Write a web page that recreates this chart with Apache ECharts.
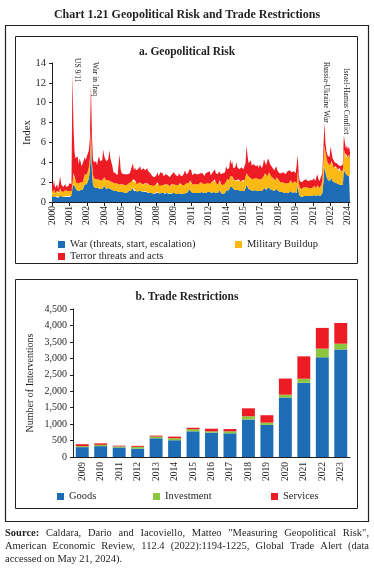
<!DOCTYPE html>
<html><head><meta charset="utf-8">
<script src="https://cdn.jsdelivr.net/npm/echarts@6.0.0/dist/echarts.min.js"></script>
<style>html,body{margin:0;padding:0;background:#fff}#c{width:374px;height:570px}</style>
</head><body><div id="c"></div>
<script>
// ---------- Panel a: monthly Geopolitical Risk components (Jan 2000 - Apr 2024) ----------
const startYear = 2000, endYear = 2024, endMonth = 4;
const labelEvery = 17;

const war = [
0.6,0.5,0.7,0.5,0.5,0.6,0.4,0.5,0.8,0.6,0.5,0.5,
0.5,0.6,0.5,0.6,0.5,0.6,0.5,0.6,1.8,1.9,1.6,1.4,
1.2,1.3,1.1,1.3,1.2,1.1,1.2,1.5,1.8,1.7,1.8,2.1,
2.4,3.2,5.8,3.0,1.8,1.5,1.4,1.4,1.3,1.4,1.5,1.3,
1.4,1.3,1.5,1.6,1.5,1.3,1.3,1.4,1.4,1.3,1.3,1.2,
1.1,1.1,1.0,1.1,1.0,1.0,1.2,1.0,1.0,1.0,0.9,0.9,
1.0,0.9,1.0,1.1,1.0,1.1,1.5,1.4,1.1,1.2,1.1,1.0,
1.1,1.1,1.2,1.1,1.0,1.0,1.0,1.1,1.0,1.0,0.9,0.9,
0.9,0.9,0.9,0.8,0.8,0.9,0.9,1.0,0.9,0.8,0.9,0.9,
1.0,0.9,0.8,0.9,0.9,0.9,0.8,0.8,0.8,0.9,0.9,0.9,
0.9,0.8,0.8,0.8,0.9,0.9,0.8,0.8,0.8,0.8,1.0,0.9,
0.9,1.0,1.3,1.2,1.0,0.9,0.9,0.9,0.9,0.9,0.9,0.9,
0.9,1.0,1.0,0.9,0.9,0.9,0.9,1.0,1.0,0.9,1.0,0.9,
0.9,1.0,1.0,1.1,0.9,0.9,0.9,1.1,1.2,0.9,0.8,0.8,
0.9,0.9,1.3,1.2,1.1,1.2,1.5,1.4,1.5,1.3,1.2,1.1,
1.2,1.1,1.2,1.1,1.1,1.1,1.1,1.0,1.1,1.4,1.7,1.5,
1.3,1.3,1.2,1.2,1.1,1.1,1.2,1.1,1.1,1.2,1.1,1.1,
1.1,1.1,1.2,1.5,1.4,1.2,1.2,1.5,1.4,1.3,1.2,1.2,
1.2,1.1,1.1,1.3,1.2,1.1,1.0,1.0,1.0,1.0,1.0,0.9,
0.9,0.9,0.9,0.9,1.0,1.1,1.0,0.9,1.0,1.0,0.9,0.9,
1.8,0.9,0.6,0.5,0.5,0.6,0.6,0.6,0.6,0.6,0.6,0.6,
0.6,0.6,0.6,0.6,0.7,0.6,0.6,0.8,0.7,0.6,0.6,0.7,
0.9,2.0,3.6,3.0,2.6,2.3,2.2,2.1,2.3,2.4,2.1,2.0,
2.0,2.0,1.9,1.8,1.8,1.9,1.7,1.7,1.7,3.3,3.0,2.8,
2.8,2.6,2.9,2.7
];
const buildup = [
0.6,0.5,0.6,0.4,0.5,0.5,0.4,0.5,0.6,0.5,0.5,0.5,
0.5,0.6,0.5,0.5,0.5,0.5,0.5,0.5,0.9,1.0,0.8,0.8,
0.7,0.8,0.8,0.8,0.8,0.8,0.8,0.9,1.0,1.0,1.0,1.0,
1.1,1.2,1.5,1.0,0.9,0.9,0.9,0.9,0.9,0.9,0.9,0.9,
0.9,0.9,0.9,0.9,0.9,0.9,0.8,0.8,0.9,0.8,0.8,0.8,
0.8,0.8,0.8,0.8,0.8,0.8,0.8,0.8,0.8,0.8,0.8,0.8,
0.8,0.8,0.8,0.8,0.8,0.9,0.9,0.9,0.9,1.0,0.9,0.8,
0.8,0.9,0.9,0.8,0.8,0.8,0.8,0.8,0.9,0.9,0.8,0.8,
0.8,0.8,0.8,0.8,0.8,0.8,0.9,1.0,0.9,0.8,0.8,0.8,
0.9,0.8,0.8,0.9,1.0,0.9,0.9,0.8,0.8,0.9,0.9,0.9,
0.9,0.9,0.9,0.9,1.0,1.0,0.9,0.9,0.9,0.9,1.1,1.0,
0.9,0.9,1.0,1.0,0.9,0.9,0.9,0.9,0.9,0.9,0.9,0.9,
1.0,1.0,1.0,1.0,1.0,0.9,0.9,0.9,1.0,1.0,1.0,1.0,
1.0,1.1,1.2,1.2,1.0,0.9,0.9,1.0,1.0,0.9,0.9,0.9,
0.9,1.0,1.2,1.1,1.0,1.0,1.1,1.1,1.1,1.0,1.0,1.0,
1.0,1.1,1.1,1.0,1.0,1.1,1.1,1.0,1.1,1.2,1.2,1.3,
1.3,1.3,1.2,1.2,1.2,1.2,1.2,1.2,1.3,1.3,1.2,1.2,
1.2,1.3,1.3,1.6,1.5,1.4,1.4,1.6,1.6,1.5,1.4,1.3,
1.2,1.1,1.1,1.2,1.2,1.2,1.1,1.0,1.0,1.0,1.0,1.0,
1.0,1.0,1.0,1.0,1.1,1.1,1.1,1.0,1.1,1.1,1.0,1.0,
1.3,1.0,0.8,0.8,0.8,0.9,0.9,0.9,0.9,0.8,0.8,0.8,
0.8,0.8,0.8,0.8,0.9,0.8,0.8,0.9,0.9,0.8,0.9,1.0,
1.3,2.0,2.1,2.0,1.9,1.7,1.7,1.6,1.8,1.7,1.6,1.5,
1.5,1.6,1.5,1.5,1.4,1.5,1.4,1.4,1.5,2.0,1.9,1.8,
1.9,1.8,1.9,1.8
];
const terror = [
0.8,0.6,0.9,0.5,0.5,0.7,0.5,0.5,1.2,0.7,0.7,0.5,
0.6,0.6,0.5,0.6,0.6,0.8,0.7,0.7,10.3,4.6,2.6,2.2,
2.4,2.5,1.9,2.3,2.0,1.7,1.9,1.7,1.7,1.5,1.8,1.8,
1.7,2.0,4.5,2.8,1.6,1.6,1.5,1.8,1.5,2.0,2.2,1.9,
1.7,2.0,2.9,2.1,2.4,1.9,1.8,2.1,2.9,2.3,1.9,1.6,
1.1,0.9,1.1,1.2,0.9,1.0,2.8,1.5,1.1,1.2,1.1,1.0,
1.0,1.2,1.0,1.1,1.1,1.1,1.2,1.6,1.2,1.3,1.2,1.2,
1.4,1.1,1.5,1.3,1.2,1.6,1.8,1.3,1.1,1.5,1.4,1.5,
1.2,1.0,0.9,1.2,0.9,0.9,0.9,1.0,0.8,0.9,1.3,1.1,
1.0,0.9,0.9,1.0,1.0,0.9,0.8,0.9,1.0,1.0,0.9,1.2,
1.3,1.0,0.9,0.9,1.0,0.8,0.9,0.8,1.0,1.1,1.1,0.9,
1.0,1.0,1.0,0.9,1.3,0.9,1.0,1.1,0.9,1.0,0.9,1.0,
0.9,0.9,0.8,1.0,0.8,0.8,1.1,0.9,1.0,0.9,1.1,0.8,
1.0,0.9,1.0,1.0,1.0,0.9,1.0,1.0,1.0,1.0,1.0,1.2,
1.1,1.1,1.1,1.0,1.1,1.2,1.7,1.3,1.5,1.1,1.1,1.4,
1.8,1.3,1.3,1.2,1.3,1.3,1.4,1.3,1.3,1.3,2.8,1.8,
1.3,1.2,1.8,1.3,1.2,1.5,1.6,1.3,1.1,1.2,1.1,1.5,
1.3,1.0,1.2,1.2,1.1,1.1,0.9,1.3,1.2,1.0,1.0,1.0,
1.0,1.0,1.1,1.1,0.8,0.8,0.8,0.8,0.9,0.9,1.0,0.9,
0.9,1.0,1.2,1.0,1.1,1.1,0.9,0.9,1.0,1.0,1.0,1.0,
1.6,0.8,0.7,0.7,0.7,0.7,0.7,0.8,0.8,0.8,0.7,0.7,
0.8,0.7,0.8,0.9,0.8,0.7,0.7,1.1,0.8,0.7,0.8,0.9,
0.8,1.2,2.3,1.0,0.6,0.7,0.7,0.8,1.5,0.9,0.7,0.7,
0.5,0.5,0.5,0.5,0.5,0.5,0.5,0.6,0.6,1.4,1.1,0.8,
1.0,0.9,0.8,0.5
];
// event annotations: [label, month]
const events = [["US 9/11","2001-09"],["War in Iraq","2003-03"],["Russia-Ukraine War","2022-03"],["Israel-Hamas Conflict","2023-10"]];

// ---------- Panel b: Trade restrictions (number of interventions) ----------
const years = ["2009","2010","2011","2012","2013","2014","2015","2016","2017","2018","2019","2020","2021","2022","2023"];
const goods      = [300,330,290,255,570,510,780,740,720,1140,975,1810,2260,3030,3270];
const investment = [ 30, 40, 35, 55, 50, 60, 65, 40, 60, 100, 70,  85, 120, 265, 175];
const services   = [ 60, 45, 20, 30, 30, 50, 45, 80, 70, 240,225, 490, 680, 630, 630];

const months = [];
for (let y = startYear; y <= endYear; y++) for (let m = 1; m <= 12; m++) {
  if (y === endYear && m > endMonth) break;
  months.push(y + '-' + String(m).padStart(2, '0'));
}

const FONT = '"Liberation Serif","Times New Roman",serif';
const TXT = '#231f20';
const C_BLUE = '#1c6db5', C_YEL = '#fdb913', C_RED = '#ed1c24', C_GRN = '#8cc63f';

const chart = echarts.init(document.getElementById('c'), null, {renderer: 'canvas'});

const areaSeries = (name, data, color) => ({
  name, type: 'line', stack: 'gpr', data, xAxisIndex: 0, yAxisIndex: 0,
  symbol: 'none', showSymbol: false, sampling: null,
  lineStyle: {width: 0, color}, itemStyle: {color}, areaStyle: {color, opacity: 1},
  emphasis: {disabled: true}
});
const barSeries = (name, data, color) => ({
  name, type: 'bar', stack: 'tr', data, xAxisIndex: 1, yAxisIndex: 1,
  barWidth: '70%', itemStyle: {color}, emphasis: {disabled: true}
});
const legendItem = (name, left, top) => ({
  data: [name], left, top, icon: 'rect', itemWidth: 7, itemHeight: 7, itemGap: 4,
  textStyle: {fontFamily: FONT, fontSize: 10.5, color: TXT}, padding: 0
});

const option = {
  animation: false,
  backgroundColor: '#fff',
  title: [
    {text: 'Chart 1.21 Geopolitical Risk and Trade Restrictions', left: 'center', top: 4,
     textStyle: {fontFamily: FONT, fontSize: 12, fontWeight: 'bold', color: TXT}},
    {text: 'a. Geopolitical Risk', left: 'center', top: 41,
     textStyle: {fontFamily: FONT, fontSize: 11.5, fontWeight: 'bold', color: TXT}},
    {text: 'b. Trade Restrictions', left: 'center', top: 286,
     textStyle: {fontFamily: FONT, fontSize: 11.5, fontWeight: 'bold', color: TXT}}
  ],
  legend: [
    legendItem('War (threats, start, escalation)', 58, 239),
    legendItem('Military Buildup', 235, 239),
    legendItem('Terror threats and acts', 58, 251),
    legendItem('Goods', 57, 491),
    legendItem('Investment', 153, 491),
    legendItem('Services', 271, 491)
  ],
  grid: [
    {left: 52, right: 24, top: 63, bottom: 368},
    {left: 73, right: 24, top: 309, bottom: 113}
  ],
  xAxis: [
    {type: 'category', gridIndex: 0, data: months, boundaryGap: false,
     axisLine: {lineStyle: {color: TXT, width: 1}},
     axisTick: {interval: labelEvery - 1, length: 4, lineStyle: {color: TXT}},
     axisLabel: {interval: labelEvery - 1, rotate: 90, margin: 4, formatter: v => v.slice(0, 4),
                 fontFamily: FONT, fontSize: 9.5, color: TXT},
     splitLine: {show: false}},
    {type: 'category', gridIndex: 1, data: years,
     axisLine: {lineStyle: {color: TXT, width: 1}},
     axisTick: {length: 4, lineStyle: {color: TXT}},
     axisLabel: {rotate: 90, margin: 5, fontFamily: FONT, fontSize: 9.5, color: TXT},
     splitLine: {show: false}}
  ],
  yAxis: [
    {type: 'value', gridIndex: 0, min: 0, max: 14, interval: 2,
     name: 'Index', nameLocation: 'middle', nameRotate: 90, nameGap: 19, nameMoveOverlap: false,
     nameTextStyle: {fontFamily: FONT, fontSize: 11, color: TXT},
     axisLine: {show: true, lineStyle: {color: TXT, width: 1}},
     axisTick: {show: true, length: 3, lineStyle: {color: TXT}},
     axisLabel: {fontFamily: FONT, fontSize: 10.5, color: TXT, margin: 6},
     splitLine: {show: false}},
    {type: 'value', gridIndex: 1, min: 0, max: 4500, interval: 500,
     name: 'Number of Interventions', nameLocation: 'middle', nameRotate: 90, nameGap: 38, nameMoveOverlap: false,
     nameTextStyle: {fontFamily: FONT, fontSize: 10, color: TXT},
     axisLine: {show: true, lineStyle: {color: TXT, width: 1}},
     axisTick: {show: true, length: 3, lineStyle: {color: TXT}},
     axisLabel: {fontFamily: FONT, fontSize: 10, color: TXT, margin: 6,
                 formatter: v => v.toLocaleString('en-US')},
     splitLine: {show: false}}
  ],
  series: [
    areaSeries('War (threats, start, escalation)', war, C_BLUE),
    areaSeries('Military Buildup', buildup, C_YEL),
    areaSeries('Terror threats and acts', terror, C_RED),
    barSeries('Goods', goods, C_BLUE),
    barSeries('Investment', investment, C_GRN),
    barSeries('Services', services, C_RED)
  ]
};
chart.setOption(option);

// ---------- frames, annotations, source note ----------
const graphics = [
  {type: 'rect', shape: {x: 5.5, y: 25.5, width: 363, height: 496}, style: {fill: 'none', stroke: TXT, lineWidth: 1.2}, silent: true},
  {type: 'rect', shape: {x: 15.5, y: 36.5, width: 342, height: 227}, style: {fill: 'none', stroke: TXT, lineWidth: 1}, silent: true},
  {type: 'rect', shape: {x: 15.5, y: 279.5, width: 342, height: 229}, style: {fill: 'none', stroke: TXT, lineWidth: 1}, silent: true}
];
const evTop = [58, 62, 62, 68];
const evOff = [4, 4, 2, 2];
events.forEach((ev, i) => {
  const px = chart.convertToPixel({xAxisIndex: 0}, ev[1]);
  graphics.push({type: 'text', x: px + evOff[i], y: evTop[i], rotation: -Math.PI / 2, silent: true,
    style: {text: ev[0], fill: TXT, font: '7.5px ' + FONT, align: 'left', verticalAlign: 'middle'}});
});

const srcFont = '10.5px ' + FONT, srcBold = 'bold 10.5px ' + FONT;
const ctx = document.createElement('canvas').getContext('2d');
const mw = (t, f) => { ctx.font = f; return ctx.measureText(t).width; };
const srcLines = [
  ['Source:', 'Caldara,', 'Dario', 'and', 'Iacoviello,', 'Matteo', '"Measuring', 'Geopolitical', 'Risk",'],
  ['American', 'Economic', 'Review,', '112.4', '(2022):1194-1225,', 'Global', 'Trade', 'Alert', '(data'],
  ['accessed', 'on', 'May', '21,', '2024).']
];
const srcY = [533, 546, 559];
const L = 5, R = 369;
srcLines.forEach((words, li) => {
  const fonts = words.map((w, wi) => (li === 0 && wi === 0) ? srcBold : srcFont);
  const widths = words.map((w, wi) => mw(w, fonts[wi]));
  const total = widths.reduce((a, b) => a + b, 0);
  const gap = li < 2 ? (R - L - total) / (words.length - 1) : mw(' ', srcFont);
  let x = L;
  words.forEach((w, wi) => {
    graphics.push({type: 'text', x, y: srcY[li], silent: true,
      style: {text: w, fill: TXT, font: fonts[wi], align: 'left', verticalAlign: 'middle'}});
    x += widths[wi] + gap;
  });
});
chart.setOption({graphic: graphics});
</script>
</body></html>
